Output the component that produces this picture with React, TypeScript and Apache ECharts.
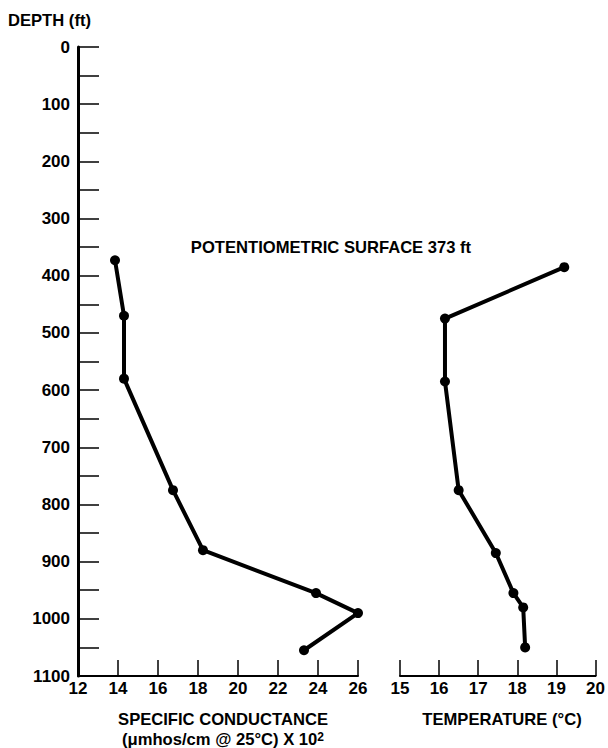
import React, { useEffect, useRef } from "react";
import * as echarts from "echarts";

const condDepths = [373, 470, 580, 775, 880, 955, 990, 1055];
const condValues = [13.85, 14.3, 14.3, 16.75, 18.25, 23.9, 26.0, 23.3];
const tempDepths = [385, 475, 585, 775, 885, 955, 980, 1050];
const tempValues = [19.2, 16.15, 16.15, 16.5, 17.45, 17.9, 18.15, 18.2];

const depthAxis = { min: 0, max: 1100, interval: 50, labelStep: 100 };
const condAxis = { min: 12, max: 26, interval: 2 };
const tempAxis = { min: 15, max: 20, interval: 1 };

const titleDepth = "DEPTH (ft)";
const titleSurface = "POTENTIOMETRIC SURFACE 373 ft";
const titleCond1 = "SPECIFIC CONDUCTANCE";
const titleCond2 = "(\u03bcmhos/cm @ 25\u00b0C) X 10";
const titleCond2Sup = "2";
const titleTemp = "TEMPERATURE (\u00b0C)";

const FONT = "'Liberation Sans', Arial, Helvetica, sans-serif";

export default function App() {
  const ref = useRef<HTMLDivElement>(null);
  useEffect(() => {
    if (!ref.current) return;
    const chart = echarts.init(ref.current, null, { renderer: "svg" });
    const labelStyle = {
      color: "#000",
      fontSize: 17,
      fontWeight: "bold" as const,
      fontFamily: FONT,
    };
    const titleFont = `bold 16.6px ${FONT}`;
    const xCommon = (a: { min: number; max: number; interval: number }, gi: number) => ({
      type: "value",
      gridIndex: gi,
      min: a.min,
      max: a.max,
      interval: a.interval,
      position: "bottom",
      axisLine: { show: true, onZero: false, lineStyle: { color: "#000", width: 2 } },
      axisTick: { show: true, inside: true, length: 16, lineStyle: { color: "#000", width: 1.5 } },
      axisLabel: { ...labelStyle, margin: 4 },
      splitLine: { show: false },
    });
    const lineSeries = (xi: number, xs: number[], ys: number[]) => ({
      type: "line",
      xAxisIndex: xi,
      yAxisIndex: xi,
      data: xs.map((v, i) => [v, ys[i]]),
      symbol: "circle",
      symbolSize: 10,
      lineStyle: { color: "#000", width: 4 },
      itemStyle: { color: "#000" },
      silent: true,
    });
    const centered = (x: number, y: number, text: string) => ({
      type: "text",
      x,
      y,
      style: {
        text,
        fill: "#000",
        font: titleFont,
        textAlign: "center",
        textVerticalAlign: "middle",
      },
    });
    chart.setOption({
      animation: false,
      backgroundColor: "#fff",
      grid: [
        { left: 78, right: 250, top: 47, bottom: 72, containLabel: false },
        { left: 400, right: 9, top: 47, bottom: 72, containLabel: false },
      ],
      xAxis: [xCommon(condAxis, 0), xCommon(tempAxis, 1)],
      yAxis: [
        {
          type: "value",
          gridIndex: 0,
          inverse: true,
          min: depthAxis.min,
          max: depthAxis.max,
          interval: depthAxis.interval,
          axisLine: { show: true, onZero: false, lineStyle: { color: "#000", width: 3 } },
          axisTick: { show: true, inside: true, length: 21, lineStyle: { color: "#000", width: 1.5 } },
          axisLabel: {
            ...labelStyle,
            margin: 8,
            formatter: (v: number) => (v % depthAxis.labelStep === 0 ? String(v) : ""),
          },
          splitLine: { show: false },
        },
        {
          type: "value",
          gridIndex: 1,
          inverse: true,
          min: depthAxis.min,
          max: depthAxis.max,
          interval: depthAxis.interval,
          show: false,
        },
      ],
      series: [
        lineSeries(0, condValues, condDepths),
        lineSeries(1, tempValues, tempDepths),
      ],
      graphic: [
        {
          type: "text",
          x: 8,
          y: 20,
          style: { text: titleDepth, fill: "#000", font: titleFont, textVerticalAlign: "middle" },
        },
        centered(331, 247, titleSurface),
        centered(223, 719, titleCond1),
        {
          type: "text",
          x: 223,
          y: 739,
          style: {
            text: `{m|${titleCond2}}{s|${titleCond2Sup}}`,
            fill: "#000",
            font: titleFont,
            textAlign: "center",
            textVerticalAlign: "middle",
            rich: {
              m: { font: titleFont, fill: "#000", verticalAlign: "bottom", lineHeight: 17 },
              s: { font: `bold 12px ${FONT}`, fill: "#000", verticalAlign: "top", lineHeight: 17 },
            },
          },
        },
        centered(502, 719, titleTemp),
      ],
    });
    return () => chart.dispose();
  }, []);
  return (
    <div
      ref={ref}
      style={{ position: "fixed", left: 0, top: 0, width: 608, height: 748, background: "#fff" }}
    />
  );
}
